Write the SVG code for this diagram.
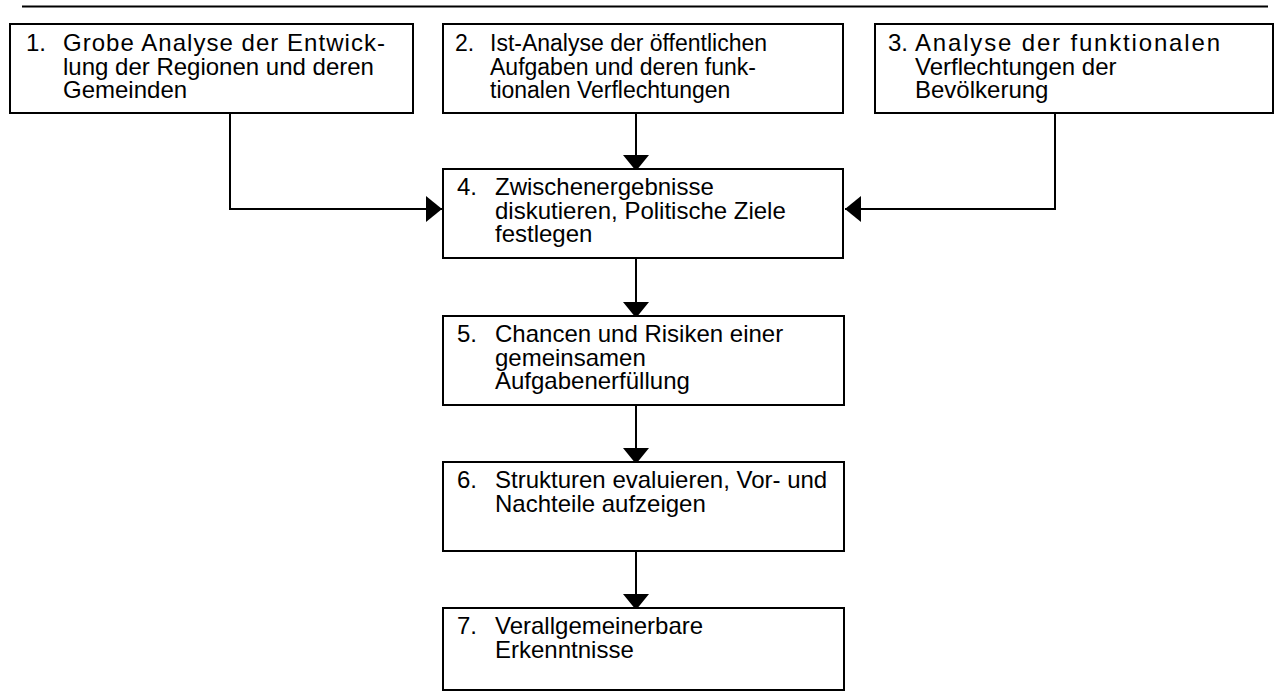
<svg xmlns="http://www.w3.org/2000/svg" width="1278" height="691" viewBox="0 0 1278 691">
<style>
.box{fill:#fff;stroke:#000;stroke-width:2}
.t{font-family:"Liberation Sans",Arial,sans-serif;font-size:24px;fill:#000}
.s{font-size:23px}
.c{fill:none;stroke:#000;stroke-width:2}
</style>
<defs>
<marker id="ah" viewBox="0 0 16 26" refX="16" refY="13" markerWidth="16" markerHeight="26" markerUnits="userSpaceOnUse" orient="auto">
<path d="M0,0 L16,13 L0,26 z" fill="#000"/>
</marker>
</defs>
<rect width="1278" height="691" fill="#fff"/>
<line x1="22" y1="6.5" x2="1268" y2="6.5" stroke="#000" stroke-width="2"/>
<g id="connectors">
<path class="c" d="M230,113 V209 H442" marker-end="url(#ah)"/>
<path class="c" d="M636,113 V171" marker-end="url(#ah)"/>
<path class="c" d="M1055,113 V209 H845" marker-end="url(#ah)"/>
<path class="c" d="M636,258 V318" marker-end="url(#ah)"/>
<path class="c" d="M636,405 V464" marker-end="url(#ah)"/>
<path class="c" d="M636,551 V610" marker-end="url(#ah)"/>
</g>
<g id="n1">
<rect class="box" x="10" y="24" width="403" height="89"/>
<text class="t" x="26" y="51">1.</text>
<text class="t" x="63" y="51" textLength="322" lengthAdjust="spacing">Grobe Analyse der Entwick-</text>
<text class="t" x="63" y="74.5">lung der Regionen und deren</text>
<text class="t" x="63" y="98">Gemeinden</text>
</g>
<g id="n2">
<rect class="box" x="443" y="24" width="400" height="89"/>
<text class="t s" x="455" y="51">2.</text>
<text class="t s" x="490" y="51">Ist-Analyse der öffentlichen</text>
<text class="t s" x="490" y="74.5">Aufgaben und deren funk-</text>
<text class="t s" x="490" y="98">tionalen Verflechtungen</text>
</g>
<g id="n3">
<rect class="box" x="875" y="24" width="398" height="89"/>
<text class="t" x="888" y="51">3.</text>
<text class="t" x="915" y="51" textLength="305" lengthAdjust="spacing">Analyse der funktionalen</text>
<text class="t" x="915" y="74.5">Verflechtungen der</text>
<text class="t" x="915" y="98">Bevölkerung</text>
</g>
<g id="n4">
<rect class="box" x="443" y="169" width="400" height="89"/>
<text class="t" x="457" y="195">4.</text>
<text class="t" x="495" y="195">Zwischenergebnisse</text>
<text class="t" x="495" y="218.5">diskutieren, Politische Ziele</text>
<text class="t" x="495" y="242">festlegen</text>
</g>
<g id="n5">
<rect class="box" x="443" y="316" width="401" height="89"/>
<text class="t" x="457" y="342">5.</text>
<text class="t" x="495" y="342">Chancen und Risiken einer</text>
<text class="t" x="495" y="365.5">gemeinsamen</text>
<text class="t" x="495" y="389">Aufgabenerfüllung</text>
</g>
<g id="n6">
<rect class="box" x="443" y="462" width="401" height="89"/>
<text class="t" x="457" y="488">6.</text>
<text class="t" x="495" y="488">Strukturen evaluieren, Vor- und</text>
<text class="t" x="495" y="511.5">Nachteile aufzeigen</text>
</g>
<g id="n7">
<rect class="box" x="443" y="608" width="401" height="82"/>
<text class="t" x="457" y="634">7.</text>
<text class="t" x="495" y="634">Verallgemeinerbare</text>
<text class="t" x="495" y="657.5">Erkenntnisse</text>
</g>
</svg>
